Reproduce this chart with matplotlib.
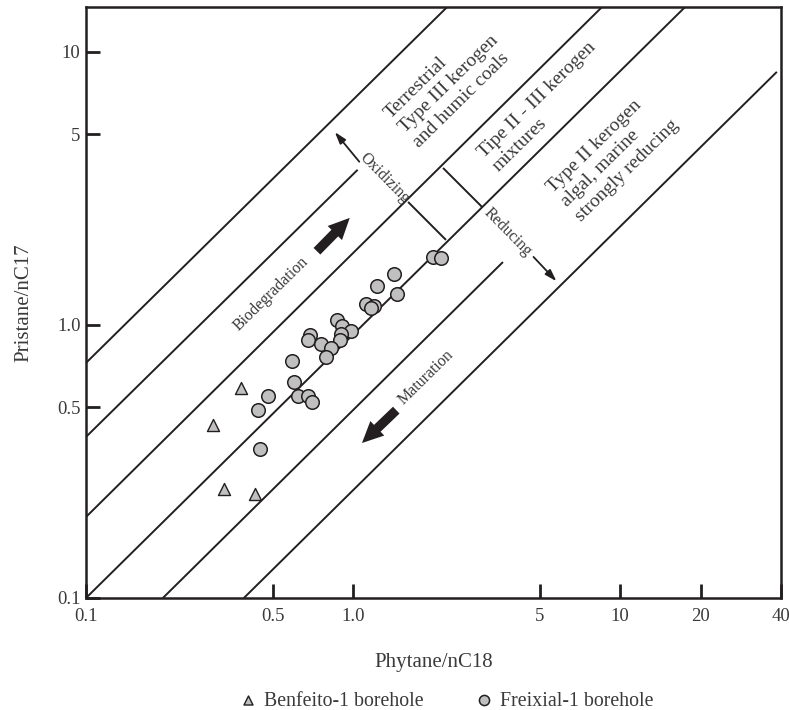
import matplotlib.pyplot as plt

plt.rcParams['font.family'] = ['Liberation Serif', 'DejaVu Serif']

# sample data
freixial_x = [2.00, 2.13, 1.42, 1.23, 1.46, 1.12, 1.20, 1.17, 0.87, 0.91, 0.98, 0.69, 0.68,
              0.90, 0.89, 0.76, 0.83, 0.79, 0.59, 0.60, 0.48, 0.62, 0.68, 0.70, 0.44, 0.45]
freixial_y = [1.78, 1.76, 1.54, 1.39, 1.30, 1.19, 1.17, 1.15, 1.04, 0.99, 0.95, 0.92, 0.88,
              0.93, 0.88, 0.85, 0.82, 0.76, 0.74, 0.62, 0.55, 0.55, 0.55, 0.52, 0.49, 0.35]
benfeito_x = [0.38, 0.30, 0.33, 0.43]
benfeito_y = [0.59, 0.43, 0.25, 0.24]

# field boundary lines (start / end in data units)
line_x0 = [0.1, 0.1, 0.1, 0.1, 0.194, 0.39]
line_y0 = [0.726, 0.389, 0.198, 0.1, 0.1, 0.1]
line_x1 = [2.25, 1.04, 8.55, 17.5, 3.64, 38.6]
line_y1 = [14.6, 3.70, 14.6, 14.6, 1.70, 8.45]

# short cross segments between oxidizing / reducing
sep_x0 = [1.606, 2.171]
sep_y0 = [2.822, 3.758]
sep_x1 = [2.227, 3.039]
sep_y1 = [2.048, 2.705]

xticks = [0.1, 0.5, 1.0, 5, 10, 20, 40]
xtick_labels = ['0.1', '0.5', '1.0', '5', '10', '20', '40']
yticks = [0.1, 0.5, 1.0, 5, 10]
ytick_labels = ['0.1', '0.5', '1.0', '5', '10']

ink = '#231f20'
txt = '#3a3a3a'
fill = '#c0c0c0'

fig = plt.figure(figsize=(7.89, 7.10), dpi=100)
ax = fig.add_axes([86 / 789, 1 - 598 / 710, (781 - 86) / 789, (598 - 7) / 710])
ax.set_xscale('log')
ax.set_yscale('log')
ax.set_xlim(0.1, 40)
ax.set_ylim(0.1, 14.6)

for x0, y0, x1, y1 in zip(line_x0, line_y0, line_x1, line_y1):
    ax.plot([x0, x1], [y0, y1], color=ink, lw=1.4, solid_capstyle='butt')
for x0, y0, x1, y1 in zip(sep_x0, sep_y0, sep_x1, sep_y1):
    ax.plot([x0, x1], [y0, y1], color=ink, lw=1.4, solid_capstyle='butt')

# arrows
thin = dict(arrowstyle='-|>,head_length=0.7,head_width=0.22', color=ink, lw=1.3)
thick = dict(arrowstyle='simple,head_length=0.9,head_width=0.85,tail_width=0.4',
             color=ink, mutation_scale=17, lw=0)
ax.annotate('', xy=(0.841, 5.18), xytext=(1.071, 3.89), arrowprops=thin)
ax.annotate('', xy=(5.87, 1.421), xytext=(4.66, 1.805), arrowprops=thin)
ax.annotate('', xy=(0.988, 2.508), xytext=(0.720, 1.831), arrowprops=thick)
ax.annotate('', xy=(1.061, 0.3635), xytext=(1.476, 0.4955), arrowprops=thick)

ang = 44.5
ax.text(0.493, 1.299, 'Biodegradation', rotation=ang, ha='center', va='center', fontsize=11.5, color=txt)
ax.text(1.875, 0.645, 'Maturation', rotation=ang, ha='center', va='center', fontsize=11.5, color=txt)
ax.text(1.311, 3.44, 'Oxidizing', rotation=ang - 90, ha='center', va='center', fontsize=11.5, color=txt)
ax.text(3.785, 2.183, 'Reducing', rotation=ang - 90, ha='center', va='center', fontsize=11.5, color=txt)

ax.text(2.28, 7.60, 'Terrestrial\nType III kerogen\nand humic coals', rotation=ang,
        ha='center', va='center', multialignment='left', fontsize=14, color=txt, linespacing=1.25)
ax.text(5.20, 6.30, 'Tipe II - III kerogen\nmixtures', rotation=ang,
        ha='center', va='center', multialignment='left', fontsize=14, color=txt, linespacing=1.25)
ax.text(9.40, 4.16, 'Type II kerogen\nalgal, marine\nstrongly reducing', rotation=ang,
        ha='center', va='center', multialignment='left', fontsize=14, color=txt, linespacing=1.25)

ax.scatter(benfeito_x, benfeito_y, marker='^', s=75, facecolor=fill, edgecolor=ink,
           linewidth=1.0, zorder=3, label='Benfeito-1 borehole')
ax.scatter(freixial_x, freixial_y, marker='o', s=95, facecolor=fill, edgecolor=ink,
           linewidth=1.1, zorder=3, label='Freixial-1 borehole')

ax.set_xticks(xticks)
ax.set_xticklabels(xtick_labels)
ax.set_yticks(yticks)
ax.set_yticklabels(ytick_labels)
ax.minorticks_off()
ax.tick_params(direction='in', length=10, width=2, color=ink, labelsize=13.5, labelcolor=txt)
ax.tick_params(axis='x', pad=7)
ax.tick_params(axis='y', pad=4)
for sp in ax.spines.values():
    sp.set_linewidth(1.8)
    sp.set_color(ink)

ax.set_xlabel('Phytane/nC18', fontsize=15, color=txt, labelpad=20)
ax.set_ylabel('Pristane/nC17', fontsize=15, color=txt, labelpad=17)

fig.legend(loc='center', bbox_to_anchor=(447 / 789, 1 - 701 / 710), ncol=2, frameon=False,
           fontsize=14.3, handlelength=0.7, handletextpad=0.45, columnspacing=2.7,
           labelcolor=txt, markerscale=0.75)

fig.savefig('out.png', dpi=100)
